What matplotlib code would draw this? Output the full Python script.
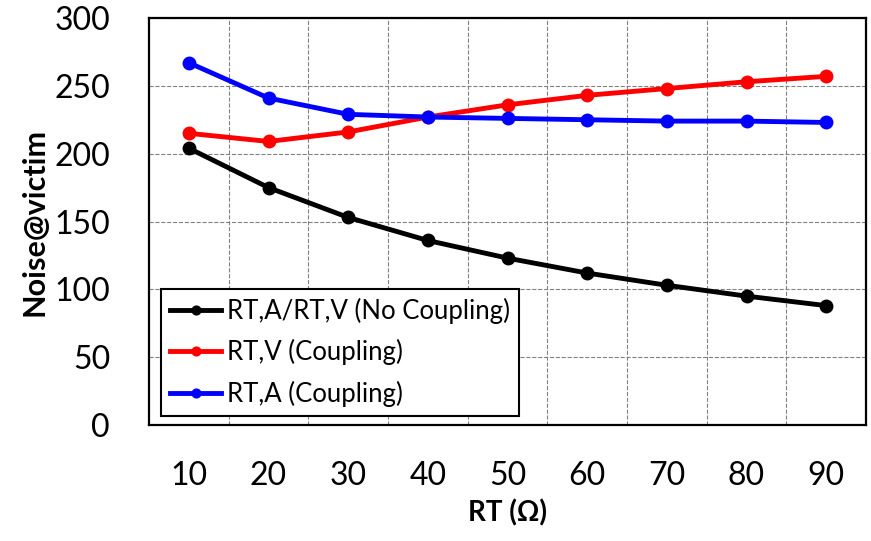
import numpy as np
import matplotlib.pyplot as plt

plt.rcParams['font.family'] = ['Lato', 'DejaVu Sans']

# Data
rt = [10, 20, 30, 40, 50, 60, 70, 80, 90]
no_coupling = [204, 175, 153, 136, 123, 112, 103, 95, 88]
v_coupling = [215, 209, 216, 227, 236, 243, 248, 253, 257]
a_coupling = [267, 241, 229, 227, 226, 225, 224, 224, 223]

series = [(no_coupling, 'black', 'RT,A/RT,V (No Coupling)'),
          (v_coupling, 'red', 'RT,V (Coupling)'),
          (a_coupling, 'blue', 'RT,A (Coupling)')]

fig = plt.figure(figsize=(8.71, 5.41), dpi=100)
ax = fig.add_axes([149 / 871, 1 - 425 / 541, (866 - 149) / 871, (425 - 18) / 541])

for vals, col, lab in series:
    ax.plot(rt, vals, color=col, lw=3.5, marker='o', ms=9, label=lab)

ax.set_xlim(5, 95)
ax.set_ylim(0, 300)
ax.set_xticks(rt)
ax.set_xticks(np.arange(15, 90, 10), minor=True)
ax.set_yticks(np.arange(0, 301, 50))
ax.grid(which='minor', axis='x', color='gray', ls='--', lw=0.8)
ax.grid(which='major', axis='y', color='gray', ls='--', lw=0.8)
ax.tick_params(axis='both', which='major', length=0, labelsize=23)
ax.tick_params(axis='x', which='major', pad=26)
ax.tick_params(axis='y', which='major', pad=28)
ax.tick_params(axis='x', which='minor', length=0)
for s in ax.spines.values():
    s.set_linewidth(1.6)

ax.set_ylabel('Noise@victim', fontsize=22, fontweight='bold', labelpad=4)
ax.set_xlabel('RT (Ω)', fontsize=20, fontweight='bold', labelpad=6)

leg = ax.legend(loc='lower left', bbox_to_anchor=(12 / 717, 9 / 407), fontsize=18.5,
                frameon=True, fancybox=False, edgecolor='black', framealpha=1,
                handlelength=2.0, markerscale=0.7, borderpad=0.35, labelspacing=0.6,
                handletextpad=0.2, borderaxespad=0)
leg.get_frame().set_linewidth(1.5)
for line in leg.get_lines():
    line.set_linewidth(3.5)

fig.savefig('out.png', dpi=100)
